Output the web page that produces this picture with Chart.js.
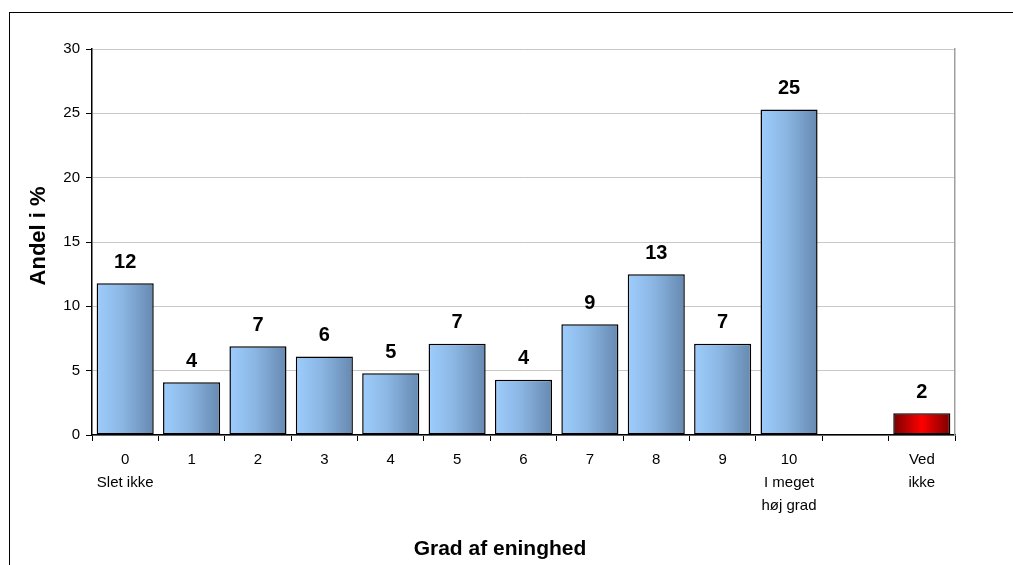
<!DOCTYPE html>
<html>
<head>
<meta charset="utf-8">
<title>Grad af eninghed</title>
<script src="https://cdn.jsdelivr.net/npm/chart.js@4/dist/chart.umd.min.js"></script>
<style>
  html, body { margin: 0; padding: 0; background: #fff; overflow: hidden; }
  #wrap { position: relative; width: 1013px; height: 565px; }
  #frame { position: absolute; left: 9px; top: 12px; width: 2000px; height: 2000px;
           border: 1.5px solid #000; box-sizing: border-box; }
  #c { position: absolute; left: 0; top: 0; }
</style>
</head>
<body>
<div id="wrap">
  <div id="frame"></div>
  <canvas id="c" width="1013" height="565"></canvas>
</div>
<script>
// Answer categories (0 = "Slet ikke" ... 10 = "I meget høj grad"), a gap, then "Ved ikke"
const categories = [
  ['0', 'Slet ikke'], '1', '2', '3', '4', '5', '6', '7', '8', '9',
  ['10', 'I meget', 'høj grad'], '', ['Ved', 'ikke']
];
// Share of respondents in percent
const shares = [11.8, 4.1, 6.9, 6.1, 4.8, 7.1, 4.3, 8.6, 12.5, 7.1, 25.3, null, 1.7];
// Index of the "Ved ikke" bar, drawn in red
const dontKnowIndex = 12;
const yTicks = [0, 5, 10, 15, 20, 25, 30];

const FONT = '"Liberation Sans", Arial, sans-serif';
const CAT_PCT = 0.86;

function barFill(ctx) {
  const chart = ctx.chart;
  const red = ctx.dataIndex === dontKnowIndex;
  const fallback = red ? '#d00000' : '#88b4e0';
  const xs = chart.scales && chart.scales.x;
  if (!xs || ctx.dataIndex === undefined) return fallback;
  const c = xs.getPixelForValue(ctx.dataIndex);
  const half = (xs.width / categories.length) * CAT_PCT / 2;
  if (!isFinite(c) || !isFinite(half) || half <= 0) return fallback;
  const g = chart.ctx.createLinearGradient(c - half, 0, c + half, 0);
  if (red) {
    g.addColorStop(0, '#7a0000');
    g.addColorStop(0.5, '#ff0000');
    g.addColorStop(1, '#7a0000');
  } else {
    g.addColorStop(0, '#9dcdfd');
    g.addColorStop(0.45, '#8bb6e3');
    g.addColorStop(1, '#6689b0');
  }
  return g;
}

// Rounded value printed above each bar
const valueLabels = {
  id: 'valueLabels',
  afterDatasetsDraw(chart) {
    const meta = chart.getDatasetMeta(0);
    const c = chart.ctx;
    c.save();
    c.font = 'bold 20px ' + FONT;
    c.fillStyle = '#000';
    c.textAlign = 'center';
    c.textBaseline = 'middle';
    meta.data.forEach((bar, i) => {
      const v = shares[i];
      if (v === null || v === undefined) return;
      c.fillText(String(Math.round(v)), bar.x, bar.y - 21);
    });
    c.restore();
  }
};

new Chart(document.getElementById('c'), {
  type: 'bar',
  data: {
    labels: categories,
    datasets: [{
      data: shares,
      backgroundColor: barFill,
      borderColor: '#000',
      borderWidth: 1.5,
      borderSkipped: false,
      categoryPercentage: CAT_PCT,
      barPercentage: 1
    }]
  },
  options: {
    responsive: false,
    animation: false,
    events: [],
    layout: { padding: { left: 0, top: 49, right: 13, bottom: 0 } },
    plugins: {
      legend: { display: false },
      tooltip: { enabled: false },
      title: {
        display: true,
        position: 'bottom',
        text: 'Grad af eninghed',
        color: '#000',
        font: { family: FONT, size: 21, weight: 'bold', lineHeight: 1.2 },
        padding: { top: 0, bottom: 3 }
      }
    },
    scales: {
      x: {
        grid: { display: true, drawOnChartArea: false, color: '#000', tickLength: 6, offset: true },
        border: { display: true, color: '#000', width: 1.5 },
        ticks: { color: '#000', font: { family: FONT, size: 15, lineHeight: 1.53 }, padding: 7,
                 maxRotation: 0, autoSkip: false },
        afterFit(s) { s.height = 101.8; }
      },
      y: {
        min: 0, max: 30,
        afterBuildTicks(s) { s.ticks = yTicks.map(v => ({ value: v })); },
        grid: { color: '#c8c8c8', tickColor: '#000', tickLength: 6, lineWidth: 1 },
        border: { display: true, color: '#000', width: 1.5 },
        ticks: { color: '#000', font: { family: FONT, size: 15 }, padding: 6 },
        title: {
          display: true, text: '  Andel i %', color: '#000',
          font: { family: FONT, size: 22, weight: 'bold', lineHeight: 1.2 },
          padding: { top: 26, bottom: 0 }
        },
        afterFit(s) { s.width = 92; }
      },
      yFrame: {
        position: 'right',
        min: 0, max: 30,
        grid: { drawOnChartArea: false, drawTicks: false },
        border: { display: true, color: '#a0a0a0', width: 1.5 },
        ticks: { display: false },
        afterFit(s) { s.width = 45; }
      }
    }
  },
  plugins: [valueLabels]
});
</script>
</body>
</html>
